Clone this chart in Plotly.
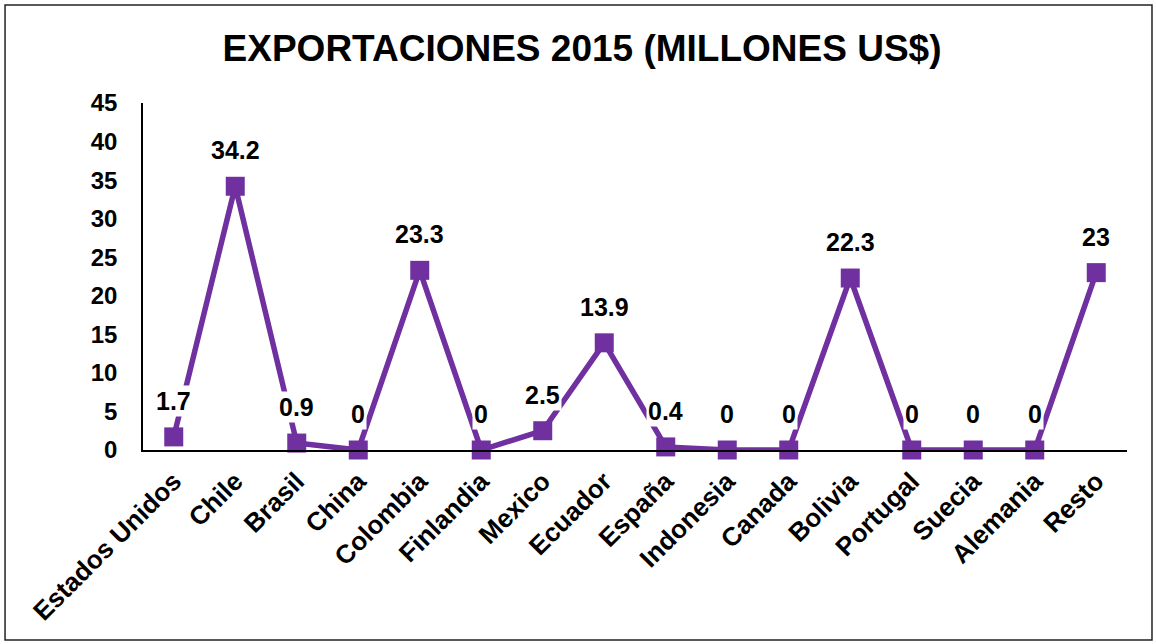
import plotly.graph_objects as go

categories = ["Estados Unidos", "Chile", "Brasil", "China", "Colombia", "Finlandia",
              "Mexico", "Ecuador", "España", "Indonesia", "Canada", "Bolivia",
              "Portugal", "Suecia", "Alemania", "Resto"]
values = [1.7, 34.2, 0.9, 0, 23.3, 0, 2.5, 13.9, 0.4, 0, 0, 22.3, 0, 0, 0, 23]
labels = ["1.7", "34.2", "0.9", "0", "23.3", "0", "2.5", "13.9", "0.4", "0", "0",
          "22.3", "0", "0", "0", "23"]
y_ticks = [0, 5, 10, 15, 20, 25, 30, 35, 40, 45]

purple = "#7030A0"
font = "Liberation Sans, Arial, sans-serif"

fig = go.Figure()
fig.add_trace(go.Scatter(
    x=categories, y=values, mode="lines+markers",
    line=dict(color=purple, width=5.5),
    marker=dict(symbol="square", size=19, color=purple),
    cliponaxis=False, showlegend=False,
))

for c, v, t in zip(categories, values, labels):
    fig.add_annotation(x=c, y=v, text=t, showarrow=False,
                       yshift=36, bgcolor="white", borderpad=1,
                       font=dict(family=font, size=25, color="black", weight="bold"))

fig.add_shape(type="rect", xref="paper", yref="paper",
              x0=-0.1402, x1=1.0254, y0=-0.5476, y1=1.2824,
              line=dict(color="#222222", width=1.5), layer="below")

fig.update_layout(
    width=1156, height=644,
    margin=dict(l=143, r=29, t=103, b=194),
    paper_bgcolor="white", plot_bgcolor="white",
    title=dict(text="EXPORTACIONES 2015 (MILLONES US$)",
               x=0.5035, xanchor="center", y=0.925, yanchor="middle",
               font=dict(family=font, size=37, color="black", weight="bold")),
    font=dict(family=font, color="black"),
)
fig.update_xaxes(type="category", range=[-0.5, 15.5], showline=True, linecolor="black",
                 linewidth=1.5, showgrid=False, ticks="", tickangle=-45,
                 tickfont=dict(family=font, size=26, color="black", weight="bold"),
                 ticklabelstandoff=4, zeroline=False)
fig.update_yaxes(range=[0, 45], tickvals=y_ticks, showline=True, linecolor="black",
                 linewidth=1.5, showgrid=False, ticks="", zeroline=False,
                 tickfont=dict(family=font, size=24, color="black", weight="bold"),
                 ticklabelstandoff=19)

fig.write_html("out.html")
